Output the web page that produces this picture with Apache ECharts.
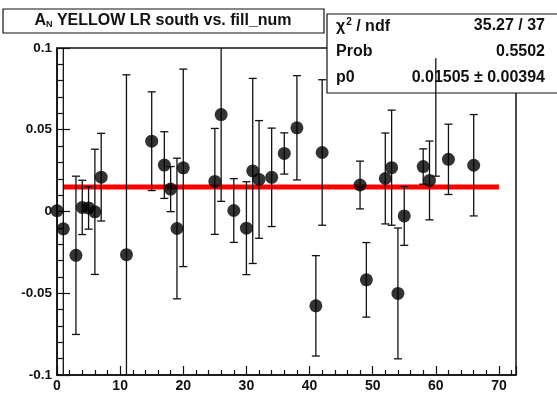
<!DOCTYPE html>
<html><head><meta charset="utf-8">
<script src="https://cdn.jsdelivr.net/npm/echarts@6/dist/echarts.min.js"></script>
<style>html,body{margin:0;padding:0;background:#fff}#c{width:557px;height:393px}</style>
</head><body><div id="c"></div>
<script>
// ---- data ----
const fillNum = [0,1,3,4,5,6,7,11,15,17,18,19,20,25,26,28,30,31,32,34,36,38,41,42,48,49,52,53,54,55,58,59,62,66];
const asym    = [0.0005,-0.0106,-0.0268,0.0025,0.0022,-0.0002,0.0210,-0.0264,0.0430,0.0284,0.0137,-0.0104,0.0267,0.0184,0.0593,0.0006,-0.0102,0.0248,0.0196,0.0209,0.0355,0.0512,-0.0577,0.0361,0.0162,-0.0418,0.0202,0.0268,-0.0501,-0.0027,0.0275,0.0190,0.0319,0.0283];
const asymErr = [0.12,0.20,0.0484,0.0166,0.0130,0.0383,0.0268,0.110,0.0302,0.0204,0.0138,0.0430,0.0604,0.0324,0.0531,0.0195,0.0284,0.0566,0.0360,0.0301,0.0126,0.0319,0.0307,0.0445,0.0146,0.0228,0.0278,0.0352,0.0400,0.0180,0.0108,0.0241,0.0215,0.0310];
// an error bar drawn without its marker
const lonelyX = [60], lonelyLo = [0.0216], lonelyHi = [0.0937];
const fitP0 = 0.01505;
const fitRange = [1, 70];
const xTicks = [0,10,20,30,40,50,60,70];
const yTicks = [-0.1,-0.05,0,0.05,0.1];
const titleMain = ' YELLOW LR south vs. fill_num';
const statNames = ['chi2', 'Prob', 'p0'];
const statValues = ['35.27 / 37', '0.5502', '0.01505 \u00b1 0.00394'];

// ---- chart ----
const FONT = '"Liberation Sans", Arial, Helvetica, sans-serif';
const Y_MIN = -0.1, Y_MAX = 0.1;
const chart = echarts.init(document.getElementById('c'), null, {renderer:'canvas'});

const errData = fillNum.map((x,i)=>[x, asym[i]-asymErr[i], asym[i]+asymErr[i], 1]);
const lonelyData = lonelyX.map((x,i)=>[x, lonelyLo[i], lonelyHi[i], 0]);
const ptData = fillNum.map((x,i)=>[x, asym[i]]);

function renderErr(params, api){
  const x = api.value(0), lo = api.value(1), hi = api.value(2), topCap = api.value(3);
  const a = api.coord([x, Math.max(lo, Y_MIN)]);
  const b = api.coord([x, Math.min(hi, Y_MAX)]);
  const st = {stroke:'#111', lineWidth:1.3};
  const ch = [{type:'line', shape:{x1:a[0],y1:a[1],x2:b[0],y2:b[1]}, style:st}];
  const cw = 4;
  if (lo >= Y_MIN) ch.push({type:'line', shape:{x1:a[0]-cw,y1:a[1],x2:a[0]+cw,y2:a[1]}, style:st});
  if (hi <= Y_MAX && topCap) ch.push({type:'line', shape:{x1:b[0]-cw,y1:b[1],x2:b[0]+cw,y2:b[1]}, style:st});
  return {type:'group', children: ch};
}

const labelStyle = {color:'#111', fontFamily:FONT, fontWeight:'bold'};

const option = {
  animation:false,
  backgroundColor:'#fff',
  grid:{left:57, top:48, right:41, bottom:16, show:true, borderColor:'#111', borderWidth:1.5, backgroundColor:'transparent'},
  xAxis:{
    type:'value', min:0, max:72.7, interval:10,
    axisLine:{show:true, onZero:false, lineStyle:{color:'#111', width:1.5}},
    axisTick:{show:true, inside:true, length:9, lineStyle:{color:'#111', width:1.2}},
    minorTick:{show:true, splitNumber:5, length:5, lineStyle:{color:'#111', width:1.2}},
    splitLine:{show:false},
    axisLabel:Object.assign({fontSize:14, margin:4, showMaxLabel:false,
      formatter:v=> xTicks.indexOf(Math.round(v))>=0 ? String(Math.round(v)) : ''}, labelStyle)
  },
  yAxis:{
    type:'value', min:Y_MIN, max:Y_MAX, interval:0.05,
    axisLine:{show:true, onZero:false, lineStyle:{color:'#111', width:1.5}},
    axisTick:{show:true, inside:true, length:13, lineStyle:{color:'#111', width:1.2}},
    minorTick:{show:true, splitNumber:5, length:6, lineStyle:{color:'#111', width:1.2}},
    splitLine:{show:false},
    axisLabel:Object.assign({fontSize:13.5, margin:5,
      formatter:v=>{ const t = yTicks.find(q=>Math.abs(q-v)<1e-9); return t===undefined?'':String(t); }}, labelStyle)
  },
  graphic:[
    {type:'rect', z:5, shape:{x:3, y:9, width:321, height:24}, style:{fill:'#fff', stroke:'#111', lineWidth:1.2}},
    {type:'text', z:6, x:163, y:21, style:{
      text:'{a|A}{n|N}{t|'+titleMain+'}', align:'center', verticalAlign:'middle',
      rich:{a:{fontSize:16, fontWeight:'bold', fontFamily:FONT, fill:'#111'},
            n:{fontSize:9, fontWeight:'bold', fontFamily:FONT, fill:'#111', padding:[7,0,0,0]},
            t:{fontSize:16, fontWeight:'bold', fontFamily:FONT, fill:'#111'}}}},
    {type:'rect', z:5, shape:{x:327, y:14, width:240, height:79}, style:{fill:'#fff', stroke:'#111', lineWidth:1.2}},
    {type:'text', z:6, x:336, y:27, style:{
      text:'{t|\u03c7}{s|2}{t| / ndf}', verticalAlign:'middle',
      rich:{t:{fontSize:16, fontWeight:'bold', fontFamily:FONT, fill:'#111'},
            s:{fontSize:10, fontWeight:'bold', fontFamily:FONT, fill:'#111', padding:[0,0,9,1]}}}},
    {type:'text', z:6, x:336, y:52, style:{text:statNames[1], verticalAlign:'middle', font:'bold 16px '+FONT, fill:'#111'}},
    {type:'text', z:6, x:336, y:78, style:{text:statNames[2], verticalAlign:'middle', font:'bold 16px '+FONT, fill:'#111'}},
    {type:'text', z:6, x:545, y:26, style:{text:statValues[0], align:'right', verticalAlign:'middle', font:'bold 16px '+FONT, fill:'#111'}},
    {type:'text', z:6, x:545, y:52, style:{text:statValues[1], align:'right', verticalAlign:'middle', font:'bold 16px '+FONT, fill:'#111'}},
    {type:'text', z:6, x:545, y:78, style:{text:statValues[2], align:'right', verticalAlign:'middle', font:'bold 16px '+FONT, fill:'#111'}}
  ],
  series:[
    {type:'line', data:[[fitRange[0], fitP0],[fitRange[1], fitP0]], symbol:'none',
     lineStyle:{color:'#ff0000', width:5}, z:2, silent:true},
    {type:'custom', data:errData, renderItem:renderErr, clip:true, z:3, silent:true},
    {type:'scatter', data:ptData, symbol:'circle', symbolSize:13, itemStyle:{color:'#000'}, z:4, silent:true, clip:false},
    {type:'custom', data:lonelyData, renderItem:renderErr, clip:true, z:10, silent:true}
  ]
};
chart.setOption(option);
</script>
</body></html>
